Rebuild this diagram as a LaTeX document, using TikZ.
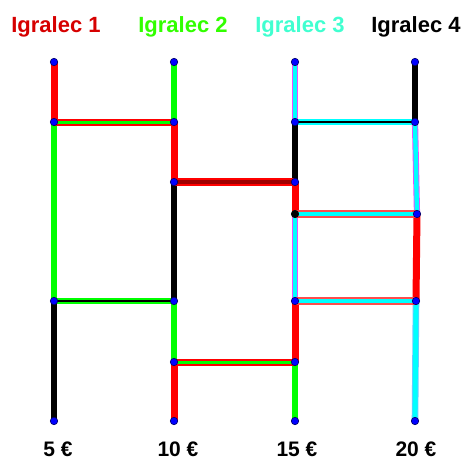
\documentclass[tikz,border=0pt]{standalone}
\usepackage{fontspec}
\setmainfont{Liberation Sans}
\definecolor{pathred}{RGB}{255,0,0}
\definecolor{pathgreen}{RGB}{0,255,0}
\definecolor{pathcyan}{RGB}{0,255,255}
\definecolor{pathdark}{RGB}{160,0,0}
\definecolor{edgemag}{RGB}{230,80,255}
\definecolor{edgeblue}{RGB}{110,200,255}
\definecolor{labelone}{RGB}{214,0,0}
\definecolor{labeltwo}{RGB}{50,255,0}
\definecolor{labelthree}{RGB}{64,255,208}
\definecolor{dotblue}{RGB}{0,0,255}
\begin{document}
\begin{tikzpicture}[x=1pt,y=-1pt,
  vred/.style={draw=pathred,line width=7pt},
  vgreen/.style={draw=pathgreen,line width=6.5pt},
  vblack/.style={draw=black,line width=5.5pt},
  vcyan/.style={draw=edgemag,line width=0.9pt,double=pathcyan,double distance=4.4pt},
  vcyanplain/.style={draw=edgeblue,line width=0.9pt,double=pathcyan,double distance=4.8pt},
  rung/.style 2 args={draw=#1,double=#2,line width=2pt,double distance=3pt},
  thinrung/.style 2 args={draw=#1,double=#2,line width=1.8pt,double distance=2pt},
  dot/.style={circle,fill=dotblue,draw=black!60!blue,line width=0.6pt,inner sep=0pt,minimum size=7.5pt},
  blackdot/.style={dot,fill=black,draw=black},
  player/.style={font=\bfseries\fontsize{22}{24}\selectfont,anchor=base},
  prize/.style={font=\bfseries\fontsize{21}{23}\selectfont,anchor=base}]
\useasboundingbox (0,0) rectangle (467,461);

% ladder points, column by column
\coordinate (A0) at (54,62);
\coordinate (A1) at (54,122);
\coordinate (A4) at (54,301);
\coordinate (A6) at (54,421);
\coordinate (B0) at (174,62);
\coordinate (B1) at (174,122);
\coordinate (B2) at (174,182);
\coordinate (B4) at (174,301);
\coordinate (B5) at (174,362);
\coordinate (B6) at (174,421);
\coordinate (C0) at (295,62);
\coordinate (C1) at (295,122);
\coordinate (C2) at (295,182);
\coordinate (C3) at (295,214);
\coordinate (C4) at (295,301);
\coordinate (C5) at (295,362);
\coordinate (C6) at (295,421);
\coordinate (D0) at (415,62);
\coordinate (D1) at (415,122);
\coordinate (D3) at (417,214);
\coordinate (D4) at (416,301);
\coordinate (D6) at (415,421);

% vertical segments, coloured by the player walking them
\draw[vred] (A0) -- (A1);
\draw[vgreen] (A1) -- (A4);
\draw[vblack] (A4) -- (A6);

\draw[vgreen] (B0) -- (B1);
\draw[vred] (B1) -- (B2);
\draw[vblack] (B2) -- (B4);
\draw[vgreen] (B4) -- (B5);
\draw[vred] (B5) -- (B6);

\draw[vcyan] (C0) -- (C1);
\draw[vblack] (C1) -- (C2);
\draw[vred] (C2) -- (C3);
\draw[vcyan] (C3) -- (C4);
\draw[vred] (C4) -- (C5);
\draw[vgreen] (C5) -- (C6);

\draw[vblack] (D0) -- (D1);
\draw[vcyan] (D1) -- (D3);
\draw[vred] (D3) -- (D4);
\draw[vcyanplain] (D4) -- (D6);

% rungs, crossed by two players each
\draw[rung={pathred}{pathgreen}] (A1) -- (B1);
\draw[draw=pathred,double=pathdark,line width=1.8pt,double distance=4pt] (B2) -- (C2);
\draw[thinrung={pathgreen}{black}] (A4) -- (B4);
\draw[rung={pathred}{pathgreen}] (B5) -- (C5);
\draw[thinrung={pathcyan}{black}] (C1) -- (D1);
\draw[draw=pathred!70,double=pathcyan,line width=1.3pt,double distance=4.5pt] (C3) -- (D3);
\draw[draw=pathred!70,double=pathcyan,line width=1.3pt,double distance=4.5pt] (C4) -- (D4);

% junction dots
\foreach \p in {A0,A1,A4,A6,B0,B1,B2,B4,B5,B6,C0,C1,C2,C4,C5,C6,D0,D1,D3,D4,D6}
  \node[dot] (dot\p) at (\p) {};
\node[blackdot] (dotC3) at (C3) {};

% players and prizes
\node[player,text=labelone] (p1) at (56,32) {Igralec 1};
\node[player,text=labeltwo] (p2) at (183,32) {Igralec 2};
\node[player,text=labelthree] (p3) at (300,32) {Igralec 3};
\node[player,text=black] (p4) at (416,32) {Igralec 4};

\node[prize] (w1) at (58,456) {5 €};
\node[prize] (w2) at (178,456) {10 €};
\node[prize] (w3) at (297,456) {15 €};
\node[prize] (w4) at (416,456) {20 €};
\end{tikzpicture}
\end{document}
